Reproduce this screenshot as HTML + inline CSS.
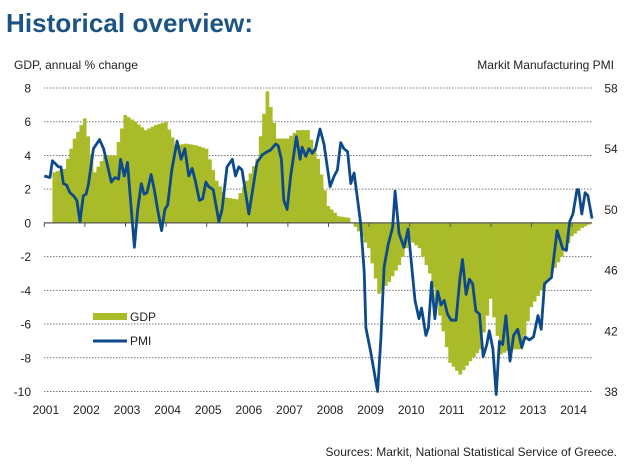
<!DOCTYPE html>
<html><head><meta charset="utf-8"><style>
body{margin:0;background:#fff;width:640px;height:467px;overflow:hidden;font-family:"Liberation Sans",Arial,sans-serif}
svg{display:block}
</style></head><body>
<svg id="chart" width="640" height="467" viewBox="0 0 640 467" xmlns="http://www.w3.org/2000/svg">
<text x="6" y="32" font-size="26" font-weight="bold" fill="#1b5485" font-family="Liberation Sans, sans-serif" textLength="247">Historical overview:</text>
<text x="14" y="69" font-size="12" fill="#222">GDP, annual % change</text>
<text x="614" y="69" font-size="12" fill="#222" text-anchor="end">Markit Manufacturing PMI</text>
<g id="grid"></g><g id="bars"></g><g id="axis"></g><g id="line"></g><g id="labels"></g>
<g>
<rect x="93" y="313" width="34" height="7" fill="#a9bb28"/>
<text x="130" y="321" font-size="12" fill="#222">GDP</text>
<line x1="93" y1="341" x2="127" y2="341" stroke="#0d4a8c" stroke-width="3"/>
<text x="130" y="345" font-size="12" fill="#222">PMI</text>
</g>
<text x="617" y="456" font-size="12" fill="#222" text-anchor="end">Sources: Markit, National Statistical Service of Greece.</text>
</svg>
<script>
const years=[2001,2002,2003,2004,2005,2006,2007,2008,2009,2010,2011,2012,2013,2014];
const leftTicks=[8,6,4,2,0,-2,-4,-6,-8,-10];
const rightTicks=[58,54,50,46,42,38];
const gdpStart=2001.2;
const gdpQuarterly=[3.0,3.2,5.0,6.2, 3.0,4.0,4.0,6.4, 6.0,5.5,5.8,6.0, 4.6,4.7,4.6,4.4, 2.5,1.5,1.4,2.5, 3.8,7.8,5.0,5.0, 5.5,5.5,3.8,1.0, 0.4,0.3,-0.5,-1.5, -4.2,-3.5,-2.5,-1.0, -1.5,-3.0,-5.5,-8.3, -9.0,-8.2,-7.5,-4.5, -7.8,-7.5,-7.5,-5.0, -4.0,-3.0,-2.0,-0.8, -0.3,0.0];
const pmiDates=[2001.00,2001.14,2001.20,2001.35,2001.41,2001.47,2001.55,2001.63,2001.72,2001.80,2001.88,2001.96,2002.03,2002.09,2002.21,2002.36,2002.46,2002.54,2002.65,2002.74,2002.83,2002.88,2002.97,2003.05,2003.13,2003.22,2003.30,2003.39,2003.46,2003.53,2003.63,2003.71,2003.79,2003.89,2003.97,2004.04,2004.14,2004.27,2004.37,2004.46,2004.56,2004.64,2004.72,2004.82,2004.90,2004.98,2005.05,2005.16,2005.30,2005.38,2005.50,2005.63,2005.71,2005.79,2005.87,2006.04,2006.12,2006.24,2006.37,2006.49,2006.57,2006.70,2006.76,2006.84,2006.90,2006.98,2007.07,2007.21,2007.30,2007.35,2007.44,2007.52,2007.60,2007.68,2007.79,2007.89,2008.04,2008.14,2008.22,2008.30,2008.38,2008.47,2008.55,2008.63,2008.71,2008.79,2008.88,2008.92,2009.04,2009.21,2009.29,2009.37,2009.47,2009.58,2009.64,2009.74,2009.86,2009.96,2010.03,2010.13,2010.23,2010.29,2010.40,2010.46,2010.54,2010.62,2010.69,2010.77,2010.85,2010.93,2011.02,2011.14,2011.24,2011.30,2011.39,2011.47,2011.55,2011.63,2011.72,2011.81,2011.90,2011.96,2012.05,2012.13,2012.21,2012.29,2012.37,2012.47,2012.56,2012.66,2012.76,2012.84,2012.95,2013.05,2013.16,2013.24,2013.32,2013.40,2013.49,2013.63,2013.77,2013.86,2013.94,2014.02,2014.12,2014.16,2014.24,2014.32,2014.39,2014.49];
const pmiValues=[52.2,52.1,53.2,52.8,52.8,51.7,51.6,51.1,50.9,50.6,49.2,50.9,51.0,51.7,54.0,54.6,54.0,53.1,51.8,52.1,52.0,53.3,52.2,53.1,50.4,47.5,50.0,51.7,51.0,51.1,52.3,51.3,50.0,48.6,50.0,50.3,52.6,54.5,53.3,54.0,52.2,52.7,51.9,50.6,50.7,51.8,51.5,51.3,49.2,50.0,52.8,53.3,52.2,52.8,52.6,49.7,51.1,53.1,53.6,53.8,53.9,54.3,54.2,53.3,50.6,50.0,52.2,54.8,53.3,54.1,53.5,54.0,53.7,54.0,55.3,54.3,51.5,52.2,52.6,54.4,54.0,53.8,51.7,52.4,50.8,49.1,45.9,42.2,40.6,38.0,41.5,46.2,47.7,48.8,51.2,48.4,47.5,48.7,46.8,44.0,42.8,43.5,41.7,42.2,45.2,42.8,44.6,43.7,44.0,43.1,42.7,42.7,45.5,46.7,44.4,45.4,45.1,43.3,43.1,40.3,41.1,42.0,40.8,37.8,41.3,41.1,43.0,40.0,41.7,42.1,40.9,41.6,41.4,41.6,43.0,42.1,45.1,45.3,45.5,48.6,47.4,47.3,49.2,49.7,51.3,51.3,49.7,51.1,50.9,49.4];

const NS='http://www.w3.org/2000/svg';
const X0=44.3, XW=40.6, PL=44, PR=592;
const yTop=88, yBot=391.5;
function xs(t){return X0+(t-2001)*XW;}
function yl(v){return yTop+(8-v)*(yBot-yTop)/18;}
function yr(v){return yTop+(58-v)*(yBot-yTop)/20;}
function mk(tag,attrs,parent){const e=document.createElementNS(NS,tag);for(const k in attrs)e.setAttribute(k,attrs[k]);parent.appendChild(e);return e;}
const grid=document.getElementById('grid'),bars=document.getElementById('bars'),axis=document.getElementById('axis'),line=document.getElementById('line'),labels=document.getElementById('labels');
leftTicks.forEach(v=>{
  if(v!==0){const g=mk('line',{x1:PL,x2:PR,y1:yl(v),y2:yl(v),stroke:'#777','stroke-width':1,'stroke-dasharray':'1.5,1.5'},grid);
  
  }
  const t=mk('text',{x:31,y:yl(v)+4.5,'font-size':12,fill:'#222','text-anchor':'end'},labels);
  t.textContent=v;
  
  
});
rightTicks.forEach(v=>{
  const t=mk('text',{x:611,y:yr(v)+4.5,'font-size':12,fill:'#222','text-anchor':'middle'},labels);
  t.textContent=v;
  
  
});
const nQ=gdpQuarterly.length;
for(let i=0;i<nQ;i++){
  for(let m=0;m<3;m++){
    const f=m/3;
    const a=gdpQuarterly[i], b=(i+1<nQ)?gdpQuarterly[i+1]:gdpQuarterly[i];
    const v=a+(b-a)*f;
    const t0=gdpStart+i*0.25+m/12;
    if(t0>2014.5) continue;
    const x1=xs(t0),x2=xs(t0+1/12);
    const y0=yl(0),y1=yl(v);
    const r=mk('rect',{x:x1,y:Math.min(y0,y1),width:x2-x1+0.3,height:Math.abs(y1-y0),fill:'#a9bb28'},bars);
    
    
  }
}
const ax=mk('line',{x1:PL,x2:PR,y1:yl(0),y2:yl(0),stroke:'#555','stroke-width':1.2},axis);


years.forEach(y=>{
  const tk=mk('line',{x1:xs(y),x2:xs(y),y1:yl(0),y2:yl(0)+4,stroke:'#555','stroke-width':1},axis);
  
  
  const t=mk('text',{x:xs(y)+1.5,y:414,'font-size':12,fill:'#222','text-anchor':'middle'},labels);
  t.textContent=y;
  
  
});
const pts=pmiDates.map((d,i)=>xs(d).toFixed(1)+','+yr(pmiValues[i]).toFixed(1)).join(' ');
const pl=mk('polyline',{points:pts,fill:'none',stroke:'#0d4a8c','stroke-width':2.8,'stroke-linejoin':'round'},line);


</script>
</body></html>
